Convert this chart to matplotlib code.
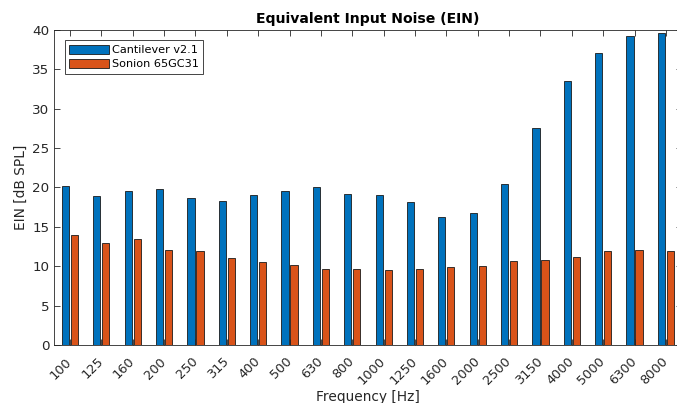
import matplotlib.pyplot as plt
import matplotlib.transforms as mtransforms
import numpy as np

# Third-octave band centre frequencies
freqs = ['100', '125', '160', '200', '250', '315', '400', '500', '630', '800',
         '1000', '1250', '1600', '2000', '2500', '3150', '4000', '5000', '6300', '8000']

# EIN values [dB SPL]
cantilever = [20.2, 18.9, 19.5, 19.8, 18.7, 18.3, 19.1, 19.5, 20.1, 19.2,
              19.1, 18.1, 16.3, 16.8, 20.4, 27.5, 33.5, 37.1, 39.2, 39.6]
sonion = [14.0, 13.0, 13.5, 12.0, 11.9, 11.0, 10.5, 10.2, 9.7, 9.6,
          9.5, 9.6, 9.9, 10.0, 10.6, 10.8, 11.2, 11.9, 12.0, 11.9]

plt.rcParams['font.family'] = 'DejaVu Sans'

fig = plt.figure(figsize=(6.77, 4.03), dpi=100)
ax = fig.add_axes([0.0802, 0.1439, 0.9266, 0.7821])

x = np.arange(1, len(freqs) + 1)
w = 0.2286
off = 0.1429
ax.bar(x - off, cantilever, w, color='#0072BD', edgecolor='#1a1a1a', lw=0.6,
       label='Cantilever v2.1')
ax.bar(x + off, sonion, w, color='#D95319', edgecolor='#1a1a1a', lw=0.6,
       label='Sonion 65GC31')

ax.set_xlim(0.5, len(freqs) + 0.5)
ax.set_ylim(0, 40)
ax.set_xticks(x)
ax.set_xticklabels(freqs, rotation=45, ha='right', va='center',
                   rotation_mode='anchor')
# nudge rotated labels a bit right, like the original
shift = mtransforms.ScaledTranslation(6 / 100, 0, fig.dpi_scale_trans)
for lab in ax.get_xticklabels():
    lab.set_transform(lab.get_transform() + shift)
ax.set_yticks(np.arange(0, 41, 5))

for s in ax.spines.values():
    s.set_color('#262626')
    s.set_linewidth(0.6)
ax.tick_params(direction='in', length=4.5, width=0.6, color='#262626',
               labelcolor='#262626', top=True, right=True)
ax.tick_params(axis='x', pad=10.5, labelsize=9.3)
ax.tick_params(axis='y', pad=3.5, labelsize=9.7)

ax.set_title('Equivalent Input Noise (EIN)', fontsize=10.1, fontweight='bold', pad=5)
ax.set_xlabel('Frequency [Hz]', fontsize=9.9, color='#262626', labelpad=2)
ax.set_ylabel('EIN [dB SPL]', fontsize=9.9, color='#262626', labelpad=3)

leg = ax.legend(loc='upper left', fontsize=8.1, fancybox=False, framealpha=1,
                edgecolor='#262626', handlelength=3.5, handleheight=0.9,
                borderaxespad=0.93, borderpad=0.4, labelspacing=0.3,
                handletextpad=0.3)
leg.get_frame().set_linewidth(0.6)

fig.savefig('out.png', dpi=100)
